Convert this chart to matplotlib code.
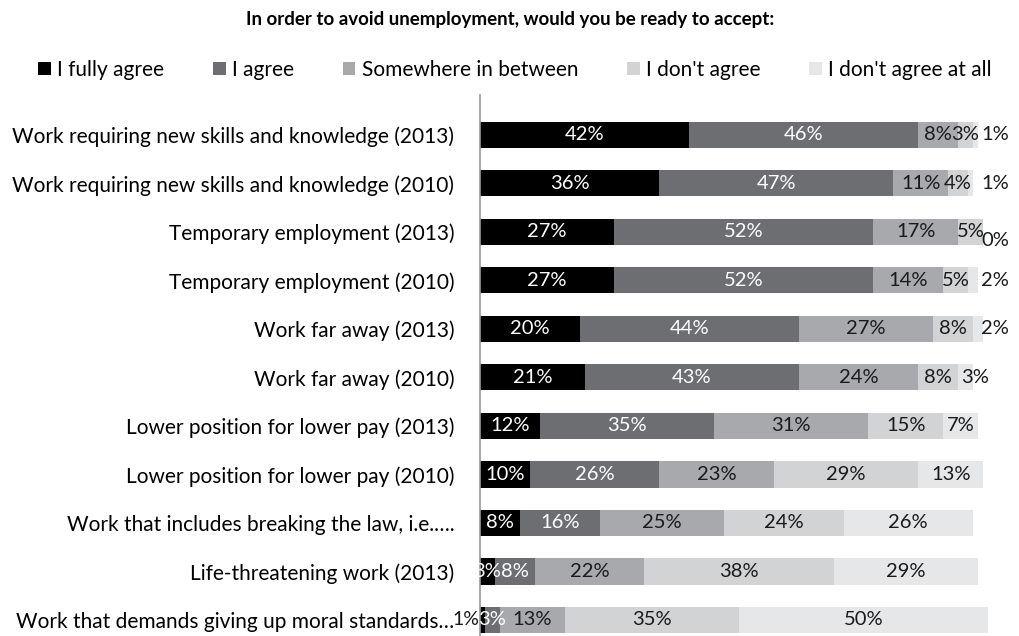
import matplotlib
matplotlib.use("Agg")
import matplotlib.pyplot as plt
from matplotlib.patches import Patch

plt.rcParams['font.family'] = ['Lato', 'DejaVu Sans']

categories = [
    "Work requiring new skills and knowledge (2013)",
    "Work requiring new skills and knowledge (2010)",
    "Temporary employment (2013)",
    "Temporary employment (2010)",
    "Work far away (2013)",
    "Work far away (2010)",
    "Lower position for lower pay (2013)",
    "Lower position for lower pay (2010)",
    "Work that includes breaking the law, i.e.\u2026.",
    "Life-threatening work (2013)",
    "Work that demands giving up moral standards\u2026",
]
series_names = ["I fully agree", "I agree", "Somewhere in between",
                "I don't agree", "I don't agree at all"]
fully_agree = [42, 36, 27, 27, 20, 21, 12, 10, 8, 3, 1]
agree = [46, 47, 52, 52, 44, 43, 35, 26, 16, 8, 3]
in_between = [8, 11, 17, 14, 27, 24, 31, 23, 25, 22, 13]
dont_agree = [3, 4, 5, 5, 8, 8, 15, 29, 24, 38, 35]
dont_agree_at_all = [1, 1, 0, 2, 2, 3, 7, 13, 26, 29, 50]

series = [fully_agree, agree, in_between, dont_agree, dont_agree_at_all]
colors = ["#000000", "#6d6e71", "#a7a9ac", "#d1d3d4", "#e6e7e8"]
text_colors = ["white", "white", "#1a1a1a", "#1a1a1a", "#1a1a1a"]

W, H = 1020, 636
fig = plt.figure(figsize=(W / 100, H / 100), dpi=100)
ax_left, ax_right, ax_top, ax_bottom = 480, 1010, 95, 636
ax = fig.add_axes([ax_left / W, 1 - ax_bottom / H,
                   (ax_right - ax_left) / W, (ax_bottom - ax_top) / H])

px_per_pct = 4.98
ax.set_xlim(0, (ax_right - ax_left) / px_per_pct)
ax.set_ylim(10.33, -0.82)

y = list(range(len(categories)))
lefts = [0] * len(categories)
fs_lab = 15
fs_val = 14.5
for k, vals in enumerate(series):
    ax.barh(y, vals, left=lefts, height=0.54, color=colors[k],
            label=series_names[k], edgecolor='none')
    for i, v in enumerate(vals):
        xc = lefts[i] + v / 2
        ha = 'center'
        dy = 0
        col = text_colors[k]
        size = fs_val
        # small trailing segments get their label just outside the bar
        if k == 4 and i in (0, 1, 2, 3, 4):
            xc = 103.4
            col = "#1a1a1a"
            if v == 0:
                dy = 0.17
        if k == 4 and i == 5:
            xc = lefts[i] + v / 2 + 2
        # the tiny leading segment of the last row is labelled left of the axis
        if k == 0 and i == 10:
            xc = -0.15
            ha = 'right'
            col = "#1a1a1a"
            size = 14
        ax.text(xc, i + dy, f"{v}%", ha=ha, va='center', fontsize=size,
                color=col, clip_on=False)
    lefts = [a + b for a, b in zip(lefts, vals)]

ax.set_yticks(y)
ax.set_yticklabels(categories, fontsize=fs_lab)
ax.tick_params(axis='y', length=0, pad=18.5)
ax.set_xticks([])
for s in ('top', 'right', 'bottom'):
    ax.spines[s].set_visible(False)
ax.spines['left'].set_color('#9a9a9a')
ax.spines['left'].set_linewidth(1.2)

fig.text(0.5, 1 - 20 / H, "In order to avoid unemployment, would you be ready to accept:",
         ha='center', va='center', fontsize=13.5, fontweight='bold')

handles = [Patch(facecolor=c, edgecolor='none') for c in colors]
fig.legend(handles, series_names, loc='center', bbox_to_anchor=(0.505, 1 - 70 / H),
           ncol=5, frameon=False, fontsize=fs_lab, handlelength=0.6, handleheight=0.6,
           handletextpad=0.3, columnspacing=2.35)

fig.savefig("out.png", dpi=100)
